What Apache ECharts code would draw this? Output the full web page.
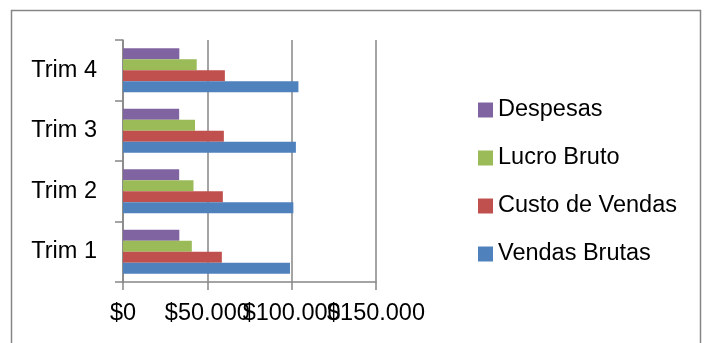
<!DOCTYPE html>
<html>
<head>
<meta charset="utf-8">
<script src="https://cdn.jsdelivr.net/npm/echarts@6/dist/echarts.min.js"></script>
<style>
    html, body { margin: 0; padding: 0; background: #fff; }
    #chartDiv { width: 704px; height: 343px; }
</style>
</head>
<body>
<div id="chartDiv"></div>
<script>
// dados
var trimestres = ['Trim 1', 'Trim 2', 'Trim 3', 'Trim 4'];
var vendasBrutas = [99000, 101000, 102500, 104000];
var custoVendas = [58600, 59200, 59800, 60400];
var lucroBruto = [40800, 41800, 42700, 43700];
var despesas = [33400, 33300, 33300, 33400];
var xTicks = [0, 50000, 100000, 150000];

var fonte = '"Liberation Sans", Arial, sans-serif';
var cinza = '#868686';
var tamFonte = 23.5;

function moeda(v) {
    // $50.000 -> separador de milhar com ponto
    return '$' + String(v).replace(/\B(?=(\d{3})+(?!\d))/g, '.');
}

var myChart = echarts.init(document.getElementById('chartDiv'));

function barra(nome, dados, cor) {
    return {
        name: nome,
        type: 'bar',
        data: dados,
        barWidth: 11,
        barGap: '0%',
        itemStyle: { color: cor },
        emphasis: { disabled: true }
    };
}

// os rotulos se sobrepoem no original; o ECharts esconde os sobrepostos,
// entao dividimos os rotulos em dois eixos (pares / impares)
function eixoX(par, visivel) {
    return {
        type: 'value',
        position: 'bottom',
        min: xTicks[0],
        max: xTicks[xTicks.length - 1],
        interval: 50000,
        axisLine: { show: visivel, lineStyle: { color: cinza, width: 1.5 } },
        axisTick: { show: visivel, length: 8, lineStyle: { color: cinza, width: 1.5 } },
        splitLine: { show: visivel, lineStyle: { color: cinza, width: 1.5 } },
        axisLabel: {
            color: '#000',
            fontSize: tamFonte,
            fontFamily: fonte,
            margin: 20,
            hideOverlap: false,
            showMinLabel: true,
            showMaxLabel: true,
            formatter: function (v) {
                var i = xTicks.indexOf(v);
                return (i % 2 === 0) === par ? moeda(v) : '';
            }
        }
    };
}

var option = {
    backgroundColor: '#fff',
    animation: false,
    textStyle: { fontFamily: fonte },
    graphic: [{
        type: 'rect',
        shape: { x: 11.5, y: 10.5, width: 689, height: 340 },
        style: { fill: 'none', stroke: cinza, lineWidth: 1.5 },
        silent: true
    }],
    grid: {
        left: 123,
        top: 40,
        right: 328,
        bottom: 61,
        containLabel: false
    },
    legend: {
        orient: 'vertical',
        left: 473,
        top: 93,
        itemWidth: 15,
        itemHeight: 15,
        itemGap: 24,
        data: ['Despesas', 'Lucro Bruto', 'Custo de Vendas', 'Vendas Brutas'],
        textStyle: { fontSize: tamFonte, color: '#000', fontFamily: fonte },
        icon: 'rect',
        selectedMode: false
    },
    xAxis: [eixoX(true, true), eixoX(false, false)],
    yAxis: {
        type: 'category',
        data: trimestres,
        axisLine: { show: true, lineStyle: { color: cinza, width: 1.5 } },
        axisTick: { show: true, length: 8, lineStyle: { color: cinza, width: 1.5 } },
        axisLabel: { color: '#000', fontSize: tamFonte, fontFamily: fonte, margin: 26 }
    },
    // no ECharts a primeira serie fica em cima, por isso a ordem invertida
    series: [
        barra('Despesas', despesas, '#8064A2'),
        barra('Lucro Bruto', lucroBruto, '#9BBB59'),
        barra('Custo de Vendas', custoVendas, '#C0504D'),
        barra('Vendas Brutas', vendasBrutas, '#4F81BD')
    ]
};

myChart.setOption(option);
</script>
</body>
</html>
